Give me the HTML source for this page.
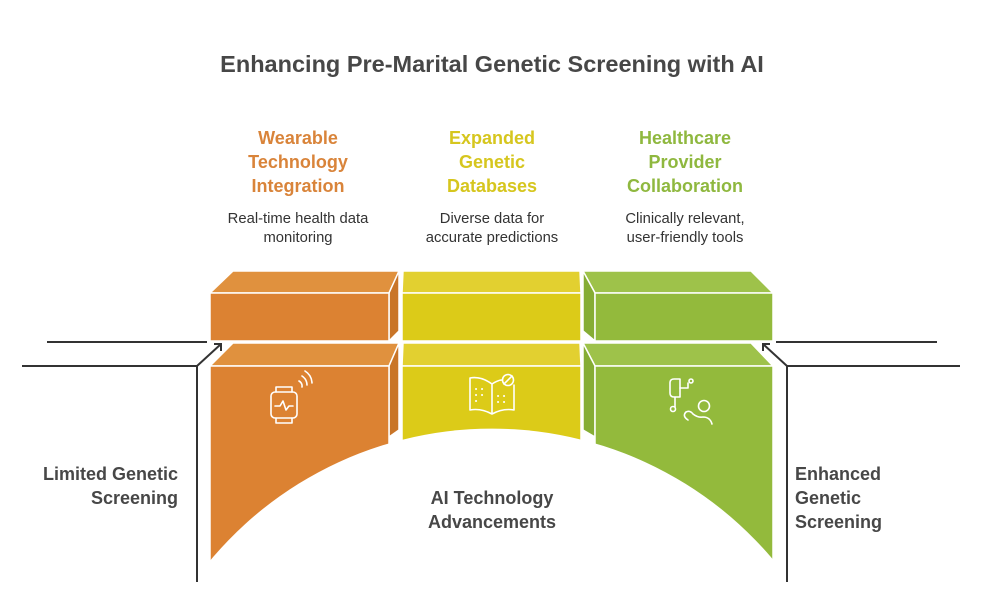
<!DOCTYPE html>
<html><head><meta charset="utf-8"><style>
html,body{margin:0;padding:0;background:#fff;width:984px;height:593px;overflow:hidden;}
svg{display:block;font-family:"Liberation Sans",sans-serif;overflow:hidden;}
</style></head><body>
<svg width="984" height="593" viewBox="0 0 984 593" xmlns="http://www.w3.org/2000/svg">
<rect width="984" height="593" fill="#fff"/>
<text x="492" y="72" text-anchor="middle" font-size="23.5" font-weight="bold" fill="#474747">Enhancing Pre-Marital Genetic Screening with AI</text>

<g font-size="18" font-weight="bold" text-anchor="middle">
<text x="298" y="144" fill="#d9843a">Wearable</text>
<text x="298" y="168" fill="#d9843a">Technology</text>
<text x="298" y="192" fill="#d9843a">Integration</text>
<text x="492" y="144" fill="#d6c61e">Expanded</text>
<text x="492" y="168" fill="#d6c61e">Genetic</text>
<text x="492" y="192" fill="#d6c61e">Databases</text>
<text x="685" y="144" fill="#8fb83f">Healthcare</text>
<text x="685" y="168" fill="#8fb83f">Provider</text>
<text x="685" y="192" fill="#8fb83f">Collaboration</text>
</g>
<g font-size="14.8" text-anchor="middle" fill="#333">
<text x="298" y="223">Real-time health data</text>
<text x="298" y="242">monitoring</text>
<text x="492" y="223">Diverse data for</text>
<text x="492" y="242">accurate predictions</text>
<text x="685" y="223">Clinically relevant,</text>
<text x="685" y="242">user-friendly tools</text>
</g>

<!-- upper blocks -->
<g stroke="#fff" stroke-width="1.5">
<polygon points="233,271 399,271 389,293 210,293" fill="#e0913e"/>
<polygon points="389,293 399,271 399,331 389,341" fill="#c97528"/>
<rect x="210" y="293" width="179" height="48" fill="#dc8232"/>
<polygon points="403,271 580,271 581,293 402,293" fill="#e2d030"/>
<rect x="402" y="293" width="179" height="48" fill="#dccb18"/>
<polygon points="583,271 751,271 773,293 595,293" fill="#9ec24a"/>
<polygon points="583,271 595,293 595,341 583,331" fill="#86ad34"/>
<rect x="595" y="293" width="178" height="48" fill="#93ba3c"/>
</g>

<!-- lower blocks -->
<g stroke="#fff" stroke-width="1.5">
<polygon points="233,343 399,343 389,366 210,366" fill="#e0913e"/>
<polygon points="389,366 399,343 399,430 389,437" fill="#c97528"/>
<polygon points="210,366 389,366 389,590 210,590" fill="#dc8232"/>
<polygon points="403,343 580,343 581,366 402,366" fill="#e2d030"/>
<polygon points="402,366 581,366 581,590 402,590" fill="#dccb18"/>
<polygon points="583,343 751,343 773,366 595,366" fill="#9ec24a"/>
<polygon points="583,343 595,366 595,437 583,430" fill="#86ad34"/>
<polygon points="595,366 773,366 773,590 595,590" fill="#93ba3c"/>
</g>
<path d="M186,593 A367,367 0 0 1 798,593 Z" fill="#fff"/>
<rect x="200" y="562" width="590" height="31" fill="#fff"/>
<rect x="189" y="366" width="20" height="227" fill="#fff"/>
<rect x="774" y="366" width="10" height="227" fill="#fff"/>

<!-- connectors -->
<g stroke="#333" stroke-width="2" fill="none">
<line x1="47" y1="342" x2="207" y2="342"/>
<polyline points="22,366 197,366 197,582"/>
<line x1="197" y1="366" x2="221" y2="344"/>
<polyline points="214,344 221,344 221,351"/>
<line x1="776" y1="342" x2="937" y2="342"/>
<polyline points="960,366 787,366 787,582"/>
<line x1="787" y1="366" x2="763" y2="344"/>
<polyline points="770,344 763,344 763,351"/>
</g>

<!-- icons -->
<g stroke="#fff" stroke-width="1.6" fill="none" stroke-linecap="round" stroke-linejoin="round">
<rect x="271" y="392" width="26" height="26" rx="4"/>
<path d="M276,392 v-5 h16 v5 M276,418 v5 h16 v-5"/>
<path d="M275,406 h5 l3,-5 l3,9 l3,-4 h4"/>
<path d="M302,387 a6,6 0 0 0 -3,-6 M307,385 a11,11 0 0 0 -5,-9 M312,383 a15,15 0 0 0 -7,-12"/>
<path d="M470,378 v32 q11,-2 22,4 q11,-6 22,-4 v-25 M492,384 v30 M470,378 q11,-2 22,6 q6,-4 10,-4"/>
<circle cx="508" cy="380" r="5.5"/>
<path d="M504,384 l8,-8"/>
<g stroke-width="2"><path d="M476,389 h.1 M482,389 h.1 M476,395 h.1 M482,395 h.1 M476,401 h.1 M498,396 h.1 M504,396 h.1 M498,402 h.1 M504,402 h.1"/></g>
<path d="M670,383 q0,-4 4,-4 h6 v18 h-6 q-4,0 -4,-4 z"/>
<path d="M675,397 v10 M680,388 h8 v-5"/>
<circle cx="691" cy="381" r="2"/>
<circle cx="673" cy="409" r="2.5"/>
<circle cx="704" cy="406" r="5.5"/>
<path d="M688,420 q-6,-4 -2,-8 q4,-2 7,2 q5,4 10,3 q7,0 9,7"/>
</g>

<g font-size="18" font-weight="bold" fill="#474747">
<text x="178" y="480" text-anchor="end">Limited Genetic</text>
<text x="178" y="504" text-anchor="end">Screening</text>
<text x="492" y="504" text-anchor="middle">AI Technology</text>
<text x="492" y="528" text-anchor="middle">Advancements</text>
<text x="795" y="480">Enhanced</text>
<text x="795" y="504">Genetic</text>
<text x="795" y="528">Screening</text>
</g>
</svg>
</body></html>
